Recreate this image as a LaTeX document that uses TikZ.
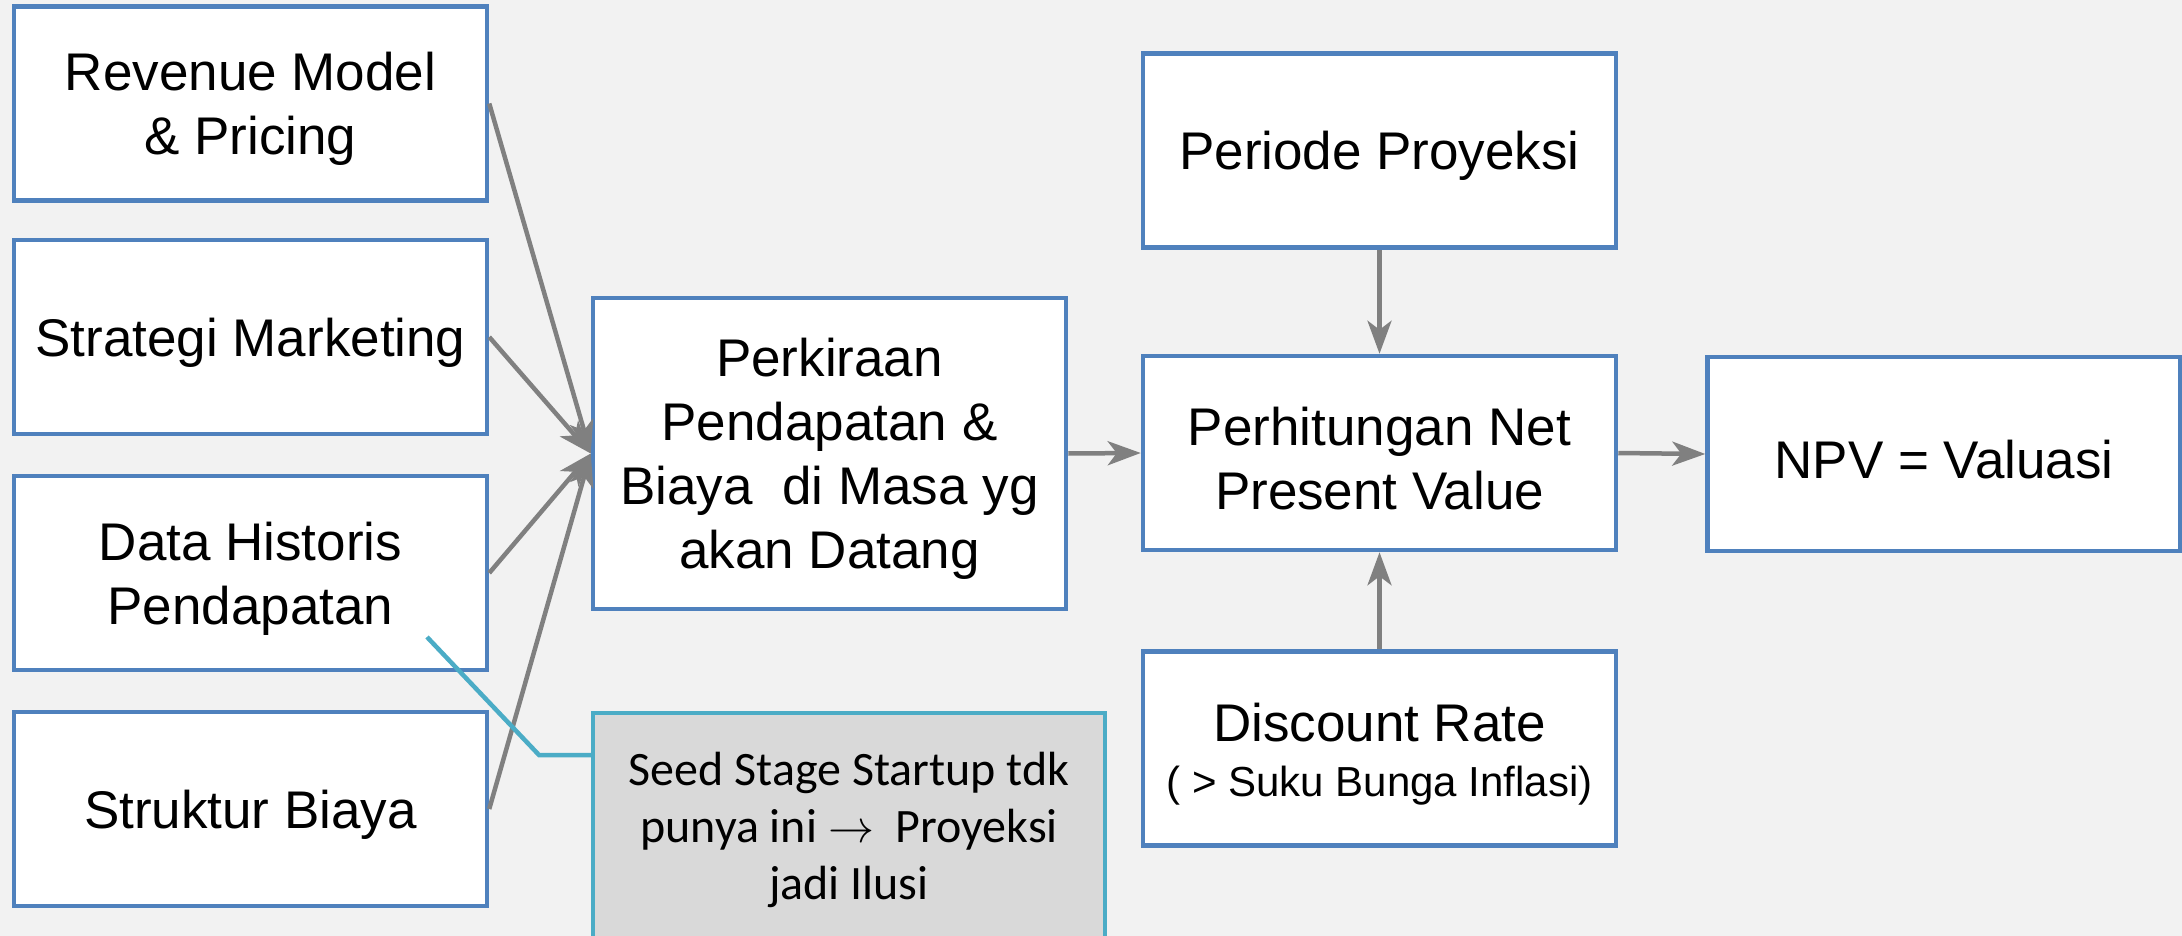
\documentclass[tikz,border=0pt]{standalone}
\usepackage{graphicx}
\usepackage{fontspec}
\setmainfont{Liberation Sans}
\newfontfamily\calib{Carlito}
\usetikzlibrary{arrows.meta,calc}
\definecolor{bgc}{HTML}{F2F2F2}
\definecolor{boxblue}{HTML}{4F81BD}
\definecolor{calloutc}{HTML}{4BACC6}
\definecolor{arrgray}{HTML}{808080}
\definecolor{notefill}{HTML}{D9D9D9}
\newcommand\tstr{\rule{0pt}{49pt}}
\newcommand\bigarr{\scalebox{4.6}{\fontsize{10}{12}\selectfont$\rightarrow$}}
\tikzset{
  mainbox/.style={draw=boxblue, line width=4.5pt, fill=white, minimum width=473pt, minimum height=194pt, align=center, inner sep=0pt, font=\fontsize{53}{64}\selectfont},
  flowarrow/.style={draw=arrgray, line width=4.5pt, -{Stealth[length=33pt,width=24pt,inset=9pt]}},
  callout/.style={draw=calloutc, line width=4.5pt},
}
\begin{document}
\begin{tikzpicture}[x=1pt,y=-1pt]
\fill[bgc] (0,0) rectangle (2182,936);
\useasboundingbox (0,0) rectangle (2182,936);

\node[mainbox] (rev) at (250.5,103.5) {\tstr Revenue Model\\\& Pricing};
\node[mainbox] (strat) at (250.5,337) {\tstr Strategi Marketing};
\node[mainbox] (data) at (250.5,573) {\tstr Data Historis\\Pendapatan};
\node[mainbox] (struk) at (250.5,809) {\tstr Struktur Biaya};
\node[mainbox, minimum height=311pt] (perk) at (829.5,453.5) {\tstr Perkiraan\\Pendapatan \&\\Biaya\ \ di Masa yg\\akan Datang};

\node[draw=calloutc, line width=4.5pt, fill=notefill, minimum width=512pt, minimum height=260pt, inner sep=0pt] (seed) at (849,843) {};
\node[align=center, inner sep=0pt, font=\calib\fontsize{48}{57}\selectfont] (seedtxt) at (849,830) {Seed Stage Startup tdk\\punya ini \bigarr\ \ Proyeksi\\jadi Ilusi};

\node[mainbox] (period) at (1379.5,150.5) {\tstr Periode Proyeksi};
\node[mainbox] (perhit) at (1379.5,453) {\tstr Perhitungan Net\\Present Value};
\node[mainbox] (disc) at (1379.5,748.5) {\tstr Discount Rate\\[-9pt]{\fontsize{42}{50}\selectfont ( > Suku Bunga Inflasi)}};
\node[mainbox] (npv) at (1944,454) {\tstr NPV = Valuasi};

\draw[flowarrow] (rev.east) -- (perk.west);
\draw[flowarrow] (strat.east) -- (perk.west);
\draw[flowarrow] (data.east) -- (perk.west);
\draw[flowarrow] (struk.east) -- (perk.west);
\draw[flowarrow] (perk.east) -- (perhit.west);
\draw[flowarrow] (perhit.east) -- (npv.west);
\draw[flowarrow] (period.south) -- (perhit.north);
\draw[flowarrow] (disc.north) -- (perhit.south);

\coordinate (c0) at (427,637);
\coordinate (c1) at (539,755);
\draw[callout] (c0) -- (c1) -- (c1 -| seed.west);
\end{tikzpicture}
\end{document}
